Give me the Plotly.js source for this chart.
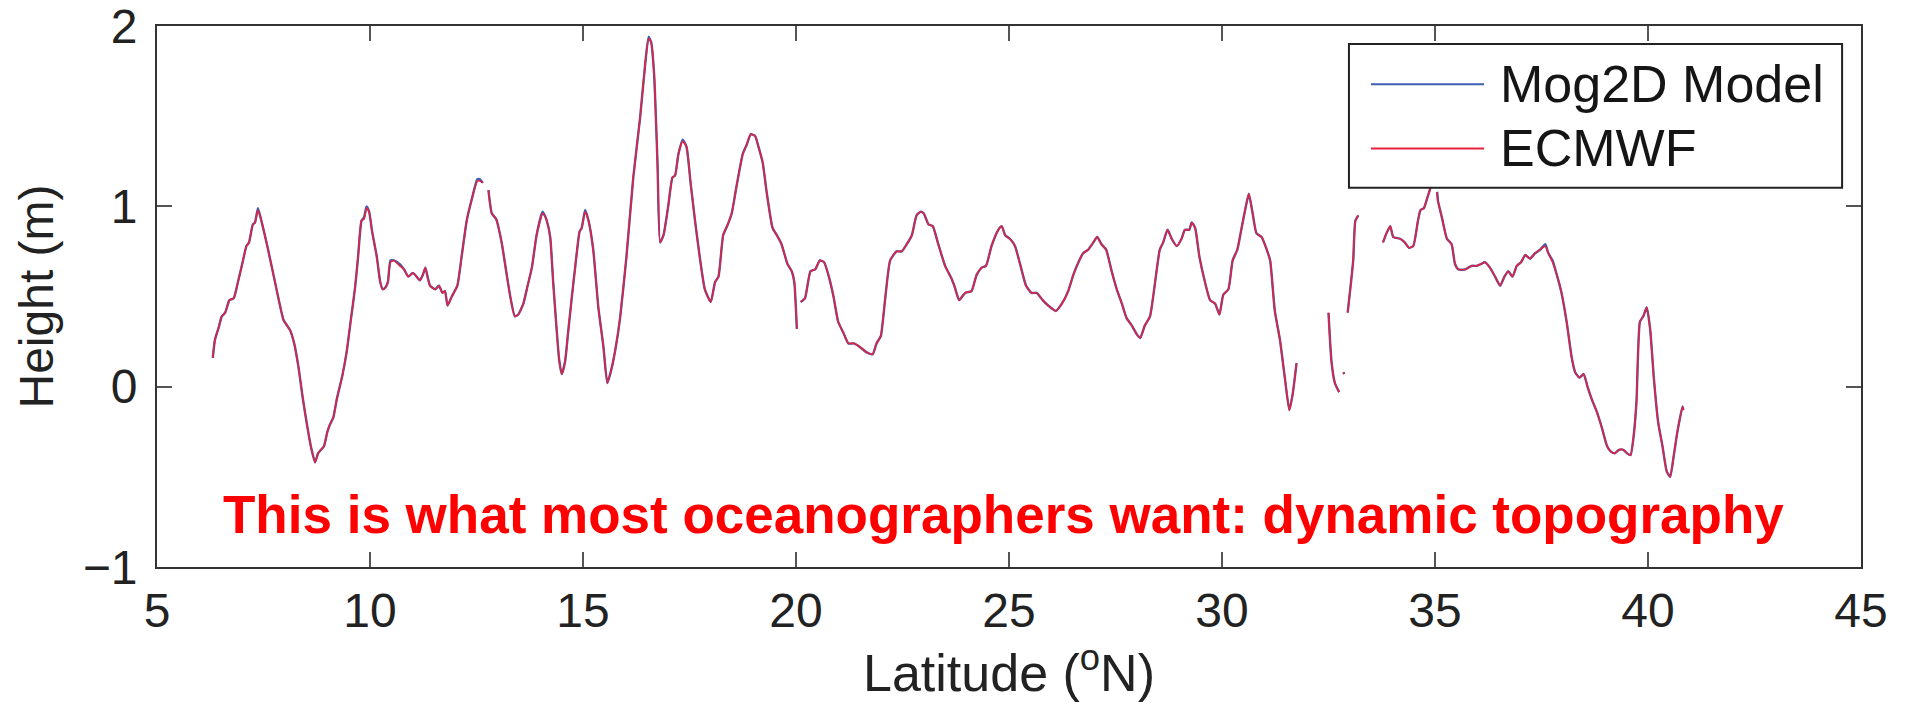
<!DOCTYPE html>
<html>
<head>
<meta charset="utf-8">
<script src="https://cdn.plot.ly/plotly-3.0.1.min.js"></script>
<style>
  html, body { margin: 0; padding: 0; background: #ffffff; }
  #chart { width: 1912px; height: 712px; }
</style>
</head>
<body>
<div id="chart"></div>
<script>
// Latitude (°N); null entries in the height arrays are gaps in the track
const latitude = [
  6.31, 6.36, 6.45, 6.52, 6.60, 6.70, 6.80, 6.90, 7.00, 7.10, 7.16, 7.25, 7.30, 7.37, 7.44, 7.58, 7.77, 7.97, 8.05, 8.13,
  8.22, 8.32, 8.42, 8.52, 8.62, 8.71, 8.78, 8.85, 8.92, 9.00, 9.06, 9.14, 9.22, 9.35, 9.45, 9.55, 9.65, 9.72, 9.80, 9.86,
  9.92, 9.98, 10.05, 10.16, 10.24, 10.30, 10.36, 10.42, 10.48, 10.56, 10.70, 10.80, 10.90, 11.00, 11.06, 11.17, 11.24, 11.30, 11.36, 11.41,
  11.53, 11.62, 11.70, 11.76, 11.82, 11.92, 12.05, 12.15, 12.27, 12.39, 12.52, 12.58, 12.65, 12.72, 12.78, 12.86, 12.96, 13.09, 13.21, 13.30,
  13.40, 13.48, 13.60, 13.70, 13.80, 13.91, 14.05, 14.10, 14.15, 14.23, 14.30, 14.38, 14.44, 14.50, 14.58, 14.65, 14.73, 14.82, 14.92, 14.97,
  15.05, 15.13, 15.24, 15.36, 15.48, 15.57, 15.67, 15.77, 15.87, 16.02, 16.18, 16.34, 16.46, 16.54, 16.60, 16.67, 16.75, 16.81, 16.89, 17.00,
  17.10, 17.16, 17.24, 17.34, 17.43, 17.53, 17.63, 17.74, 17.86, 18.00, 18.10, 18.18, 18.29, 18.40, 18.49, 18.61, 18.75, 18.84, 18.94, 19.04,
  19.12, 19.22, 19.31, 19.45, 19.55, 19.66, 19.80, 19.90, 19.96, 20.02, 20.06, 20.11, 20.21, 20.34, 20.45, 20.56, 20.66, 20.76, 20.88, 20.99,
  21.11, 21.23, 21.36, 21.50, 21.66, 21.80, 21.89, 21.99, 22.09, 22.21, 22.36, 22.48, 22.60, 22.72, 22.83, 22.93, 23.00, 23.11, 23.21, 23.34,
  23.50, 23.65, 23.73, 23.83, 23.97, 24.12, 24.24, 24.36, 24.46, 24.59, 24.75, 24.83, 24.91, 25.02, 25.14, 25.26, 25.40, 25.53, 25.65, 25.79,
  25.92, 26.10, 26.24, 26.39, 26.51, 26.63, 26.74, 26.86, 26.98, 27.07, 27.17, 27.28, 27.41, 27.53, 27.65, 27.76, 27.88, 28.00, 28.08, 28.19,
  28.31, 28.43, 28.54, 28.62, 28.72, 28.82, 28.94, 29.05, 29.13, 29.23, 29.29, 29.37, 29.47, 29.60, 29.72, 29.84, 29.94, 30.03, 30.15, 30.25,
  30.36, 30.46, 30.56, 30.63, 30.72, 30.81, 30.93, 31.05, 31.13, 31.24, 31.36, 31.48, 31.58, 31.66, 31.75, 32.10, 32.50, 32.57, 32.65, 32.75,
  32.80, 32.85, 32.87, 32.90, 32.95, 33.02, 33.08, 33.13, 33.20, 33.50, 33.78, 33.86, 33.95, 34.02, 34.18, 34.29, 34.39, 34.49, 34.60, 34.66,
  34.74, 34.81, 34.89, 34.94, 35.00, 35.05, 35.07, 35.16, 35.28, 35.39, 35.47, 35.55, 35.71, 35.86, 35.98, 36.08, 36.17, 36.29, 36.41, 36.53,
  36.63, 36.72, 36.82, 36.92, 37.02, 37.12, 37.23, 37.35, 37.47, 37.59, 37.66, 37.76, 37.86, 37.97, 38.09, 38.21, 38.29, 38.39, 38.49, 38.58,
  38.68, 38.80, 38.92, 39.04, 39.13, 39.22, 39.32, 39.42, 39.51, 39.59, 39.66, 39.73, 39.81, 39.89, 39.97, 40.05, 40.14, 40.24, 40.34, 40.44,
  40.52, 40.60, 40.69, 40.81, 40.83
];

// ECMWF-forced height (m)
const ecmwf = [
  0.16, 0.26, 0.33, 0.39, 0.41, 0.48, 0.49, 0.58, 0.68, 0.78, 0.80, 0.90, 0.91, 0.98, 0.93, 0.79, 0.58, 0.37, 0.34, 0.31,
  0.24, 0.11, -0.06, -0.21, -0.34, -0.42, -0.37, -0.35, -0.33, -0.25, -0.21, -0.17, -0.07, 0.06, 0.19, 0.37, 0.55, 0.72, 0.92, 0.93,
  0.99, 0.97, 0.86, 0.72, 0.58, 0.54, 0.55, 0.58, 0.69, 0.70, 0.67, 0.65, 0.61, 0.63, 0.62, 0.59, 0.62, 0.66, 0.60, 0.56,
  0.54, 0.56, 0.52, 0.53, 0.45, 0.50, 0.56, 0.72, 0.92, 1.04, 1.14, 1.14, 1.13, null, 1.09, 0.96, 0.93, 0.80, 0.62, 0.49,
  0.39, 0.40, 0.46, 0.56, 0.66, 0.84, 0.96, 0.95, 0.92, 0.83, 0.58, 0.32, 0.15, 0.07, 0.14, 0.30, 0.48, 0.67, 0.86, 0.88,
  0.97, 0.92, 0.76, 0.44, 0.22, 0.02, 0.10, 0.22, 0.38, 0.72, 1.16, 1.49, 1.79, 1.93, 1.91, 1.73, 1.23, 0.80, 0.84, 1.00,
  1.16, 1.17, 1.29, 1.36, 1.33, 1.12, 0.92, 0.72, 0.54, 0.47, 0.58, 0.61, 0.84, 0.90, 0.96, 1.12, 1.29, 1.34, 1.40, 1.39,
  1.33, 1.24, 1.08, 0.88, 0.84, 0.79, 0.68, 0.64, 0.58, 0.32, null, 0.47, 0.49, 0.64, 0.65, 0.70, 0.69, 0.62, 0.50, 0.36,
  0.30, 0.24, 0.24, 0.22, 0.19, 0.18, 0.24, 0.28, 0.48, 0.70, 0.75, 0.75, 0.79, 0.84, 0.95, 0.97, 0.96, 0.90, 0.89, 0.79,
  0.67, 0.60, 0.55, 0.48, 0.52, 0.53, 0.62, 0.66, 0.67, 0.78, 0.87, 0.89, 0.84, 0.82, 0.78, 0.68, 0.56, 0.52, 0.52, 0.48,
  0.45, 0.42, 0.46, 0.53, 0.62, 0.69, 0.74, 0.76, 0.80, 0.83, 0.79, 0.76, 0.64, 0.54, 0.46, 0.38, 0.34, 0.29, 0.27, 0.34,
  0.39, 0.58, 0.76, 0.80, 0.87, 0.82, 0.78, 0.82, 0.87, 0.87, 0.91, 0.88, 0.72, 0.58, 0.48, 0.46, 0.40, 0.51, 0.54, 0.70,
  0.76, 0.88, 1.00, 1.07, 0.96, 0.85, 0.83, 0.76, 0.70, 0.42, 0.26, 0.04, -0.13, -0.04, 0.13, null, 0.41, 0.14, 0.02, -0.03,
  null, 0.08, 0.07, null, 0.41, 0.56, 0.70, 0.92, 0.95, null, 0.80, 0.85, 0.89, 0.83, 0.82, 0.80, 0.77, 0.78, 0.92, 0.98,
  0.99, 1.04, 1.10, 1.15, null, 1.08, 1.03, 0.94, 0.82, 0.79, 0.68, 0.65, 0.65, 0.67, 0.67, 0.68, 0.69, 0.66, 0.61, 0.56,
  0.61, 0.64, 0.61, 0.67, 0.69, 0.73, 0.71, 0.74, 0.76, 0.78, 0.74, 0.69, 0.62, 0.52, 0.36, 0.16, 0.08, 0.05, 0.07, 0.00,
  -0.07, -0.14, -0.23, -0.33, -0.36, -0.37, -0.35, -0.35, -0.37, -0.38, -0.28, -0.08, 0.36, 0.39, 0.44, 0.32, 0.04, -0.20, -0.33, -0.47,
  -0.50, -0.39, -0.25, -0.11, -0.13
];

// Mog2D model height (m) - visually identical to ECMWF at this scale
const mog2d = [
  0.16, 0.26, 0.33, 0.39, 0.41, 0.48, 0.49, 0.58, 0.68, 0.78, 0.80, 0.90, 0.91, 0.99, 0.93, 0.79, 0.58, 0.37, 0.34, 0.31,
  0.24, 0.11, -0.06, -0.21, -0.34, -0.42, -0.37, -0.35, -0.33, -0.25, -0.21, -0.17, -0.07, 0.06, 0.19, 0.37, 0.55, 0.72, 0.92, 0.94,
  1.00, 0.97, 0.86, 0.72, 0.58, 0.54, 0.55, 0.58, 0.70, 0.70, 0.68, 0.65, 0.61, 0.63, 0.62, 0.59, 0.62, 0.66, 0.60, 0.56,
  0.54, 0.56, 0.52, 0.53, 0.45, 0.50, 0.56, 0.72, 0.92, 1.04, 1.15, 1.15, 1.13, null, 1.09, 0.96, 0.93, 0.80, 0.62, 0.49,
  0.39, 0.40, 0.46, 0.56, 0.66, 0.84, 0.97, 0.95, 0.92, 0.83, 0.58, 0.32, 0.15, 0.07, 0.14, 0.30, 0.48, 0.67, 0.86, 0.88,
  0.98, 0.92, 0.76, 0.44, 0.22, 0.02, 0.10, 0.22, 0.38, 0.72, 1.16, 1.49, 1.79, 1.94, 1.91, 1.73, 1.23, 0.80, 0.84, 1.00,
  1.16, 1.17, 1.29, 1.37, 1.33, 1.12, 0.92, 0.72, 0.54, 0.47, 0.58, 0.61, 0.84, 0.90, 0.96, 1.12, 1.29, 1.34, 1.40, 1.39,
  1.33, 1.24, 1.08, 0.88, 0.84, 0.79, 0.68, 0.64, 0.58, 0.32, null, 0.47, 0.49, 0.64, 0.65, 0.70, 0.69, 0.62, 0.50, 0.36,
  0.30, 0.24, 0.24, 0.22, 0.19, 0.18, 0.24, 0.28, 0.48, 0.70, 0.75, 0.75, 0.79, 0.84, 0.95, 0.97, 0.96, 0.90, 0.89, 0.79,
  0.67, 0.60, 0.55, 0.48, 0.52, 0.53, 0.62, 0.66, 0.67, 0.78, 0.87, 0.89, 0.84, 0.82, 0.78, 0.68, 0.56, 0.52, 0.52, 0.48,
  0.45, 0.42, 0.46, 0.53, 0.62, 0.69, 0.74, 0.76, 0.80, 0.83, 0.79, 0.76, 0.64, 0.54, 0.46, 0.38, 0.34, 0.29, 0.27, 0.34,
  0.39, 0.58, 0.76, 0.80, 0.87, 0.82, 0.78, 0.82, 0.87, 0.87, 0.91, 0.88, 0.72, 0.58, 0.48, 0.46, 0.40, 0.51, 0.54, 0.70,
  0.76, 0.88, 1.00, 1.07, 0.96, 0.85, 0.83, 0.76, 0.70, 0.42, 0.26, 0.04, -0.13, -0.04, 0.13, null, 0.41, 0.14, 0.02, -0.03,
  null, 0.08, 0.07, null, 0.41, 0.56, 0.70, 0.92, 0.95, null, 0.80, 0.85, 0.89, 0.83, 0.82, 0.80, 0.77, 0.78, 0.92, 0.98,
  0.99, 1.04, 1.10, 1.15, null, 1.08, 1.03, 0.94, 0.82, 0.79, 0.68, 0.65, 0.65, 0.67, 0.67, 0.68, 0.69, 0.66, 0.61, 0.56,
  0.61, 0.64, 0.61, 0.67, 0.69, 0.73, 0.71, 0.74, 0.76, 0.79, 0.74, 0.70, 0.62, 0.52, 0.36, 0.16, 0.08, 0.05, 0.07, 0.00,
  -0.07, -0.14, -0.23, -0.33, -0.36, -0.37, -0.35, -0.35, -0.37, -0.38, -0.28, -0.08, 0.36, 0.39, 0.44, 0.32, 0.04, -0.20, -0.33, -0.47,
  -0.50, -0.39, -0.25, -0.11, -0.13
];

const seriesNames = ['Mog2D Model', 'ECMWF'];
const seriesColors = ['#3f5db3', '#e5223d'];
const xTicks = [5, 10, 15, 20, 25, 30, 35, 40, 45];
const yTicks = [-1, 0, 1, 2];
const noteText = 'This is what most oceanographers want: dynamic topography';

const FONT = 'Liberation Sans, Arial, Helvetica, sans-serif';

const traces = [
  { x: latitude, y: mog2d, name: seriesNames[0], type: 'scatter', mode: 'lines',
    line: { color: seriesColors[0], width: 2.4, shape: 'spline', smoothing: 0.5 }, connectgaps: false, hoverinfo: 'x+y+name' },
  { x: latitude, y: ecmwf, name: seriesNames[1], type: 'scatter', mode: 'lines',
    line: { color: seriesColors[1], width: 1.6, shape: 'spline', smoothing: 0.5 }, connectgaps: false, hoverinfo: 'x+y+name' }
];

// legend geometry in paper coordinates
const lg = { x0: 0.6995, x1: 0.9889, y0: 0.701, y1: 0.9665, lx0: 0.7124, lx1: 0.7788, tx: 0.7870, rows: [0.8921, 0.7736] };

const layout = {
  width: 1912,
  height: 712,
  paper_bgcolor: '#ffffff',
  plot_bgcolor: '#ffffff',
  margin: { l: 157, r: 51, t: 26, b: 145, pad: 0 },
  showlegend: false,
  font: { family: FONT, color: '#222222' },
  xaxis: {
    range: [5, 45],
    tickvals: xTicks,
    ticktext: xTicks.map(String),
    ticks: 'inside', ticklen: 15, tickwidth: 2, tickcolor: '#555555',
    showline: true, linecolor: '#333333', linewidth: 2, mirror: 'ticks',
    showgrid: false, zeroline: false,
    tickfont: { family: FONT, size: 48, color: '#222222' },
    ticklabelstandoff: 0,
    ticklabeloverflow: 'allow',
    title: { text: 'Latitude (<sup>o</sup>N)', font: { family: FONT, size: 52, color: '#222222' }, standoff: 6 }
  },
  yaxis: {
    range: [-1, 2],
    tickvals: yTicks,
    ticktext: yTicks.map(v => v < 0 ? '\u2212' + Math.abs(v) : String(v)),
    ticks: 'inside', ticklen: 15, tickwidth: 2, tickcolor: '#555555',
    showline: true, linecolor: '#333333', linewidth: 2, mirror: 'ticks',
    showgrid: false, zeroline: false,
    tickfont: { family: FONT, size: 48, color: '#222222' },
    ticklabelstandoff: 8,
    ticklabeloverflow: 'allow',
    title: { text: 'Height (m)', font: { family: FONT, size: 48, color: '#222222' }, standoff: 14 }
  },
  shapes: [
    { type: 'rect', xref: 'paper', yref: 'paper', x0: lg.x0, x1: lg.x1, y0: lg.y0, y1: lg.y1,
      fillcolor: '#ffffff', line: { color: '#222222', width: 2 }, layer: 'above' },
    { type: 'line', xref: 'paper', yref: 'paper', x0: lg.lx0, x1: lg.lx1, y0: lg.rows[0], y1: lg.rows[0],
      line: { color: seriesColors[0], width: 2 }, layer: 'above' },
    { type: 'line', xref: 'paper', yref: 'paper', x0: lg.lx0, x1: lg.lx1, y0: lg.rows[1], y1: lg.rows[1],
      line: { color: seriesColors[1], width: 2 }, layer: 'above' }
  ],
  annotations: [
    { text: seriesNames[0], xref: 'paper', yref: 'paper', x: lg.tx, y: lg.rows[0], xanchor: 'left', yanchor: 'middle',
      showarrow: false, font: { family: FONT, size: 52, color: '#151515' } },
    { text: seriesNames[1], xref: 'paper', yref: 'paper', x: lg.tx, y: lg.rows[1], xanchor: 'left', yanchor: 'middle',
      showarrow: false, font: { family: FONT, size: 52, color: '#151515' } },
    { text: '<b>' + noteText + '</b>', xref: 'paper', yref: 'paper', x: 0.4965, y: 0.0975, xanchor: 'center', yanchor: 'middle',
      showarrow: false, font: { family: FONT, size: 53, color: '#ff0000' } }
  ]
};

Plotly.newPlot('chart', traces, layout, { displayModeBar: false, staticPlot: true });
</script>
</body>
</html>
